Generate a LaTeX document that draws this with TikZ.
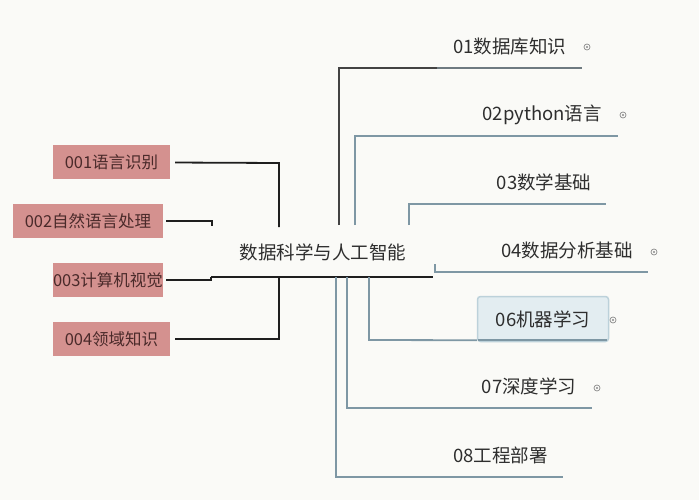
\documentclass[tikz,border=0pt]{standalone}
\usepackage{fontspec}
\newfontfamily\cjk{Noto Sans CJK SC}
\definecolor{bgc}{HTML}{FAFAF7}
\definecolor{pinkbox}{HTML}{D4918F}
\definecolor{pinktext}{HTML}{4A2A2A}
\definecolor{darkline}{HTML}{1E1E1E}
\definecolor{blueline}{HTML}{7E97A4}
\definecolor{greyline}{HTML}{434343}
\definecolor{ulgrey}{HTML}{6E7A80}
\definecolor{bluefill}{HTML}{E3EDF1}
\definecolor{blueedge}{HTML}{BCD1DA}
\definecolor{labeltext}{HTML}{2E2E2E}
\definecolor{markc}{HTML}{8A8A8A}
\tikzset{
  leftbox/.style={fill=pinkbox, text=pinktext, inner sep=0pt, minimum height=34pt,
     font=\cjk\fontsize{16.5}{18}\selectfont},
  lbl/.style={inner sep=0pt, minimum height=42pt, anchor=south west, text=labeltext,
     font=\cjk\fontsize{18.5}{20}\selectfont},
  leftconn/.style={draw=darkline, line width=1.8pt},
  mainline/.style={draw=darkline, line width=2.4pt},
  conn/.style={draw=blueline, line width=1.8pt},
  ul/.style={draw=blueline, line width=2pt},
  marker/.style={circle, draw=markc, line width=0.7pt, minimum size=6pt, inner sep=0pt,
     path picture={\fill[markc] (path picture bounding box.center) circle (1.1pt);}},
}
\begin{document}
\begin{tikzpicture}[x=1pt,y=-1pt]
\fill[bgc] (0,0) rectangle (699,500);
\useasboundingbox (0,0) rectangle (699,500);

% centre
\node[text=labeltext, font=\cjk\fontsize{18.5}{20}\selectfont] (center) at (323,252) {数据科学与人工智能};
\coordinate (uL) at (211,277);
\coordinate (uR) at (433,277);

% left boxes
\node[leftbox, minimum width=117pt] (b1) at (111.5,162.5) {001语言识别};
\node[leftbox, minimum width=150pt] (b2) at (88,221) {002自然语言处理};
\node[leftbox, minimum width=110pt] (b3) at (108,280) {003计算机视觉};
\node[leftbox, minimum width=117pt] (b4) at (111.5,339) {004领域知识};

\coordinate (j1) at (279,163);
\coordinate (e1) at (279,227);
\coordinate (j2) at (212,221);
\coordinate (e2) at (212,226);
\coordinate (j3) at (211,280);
\coordinate (j4) at (279,339);
\coordinate (e4) at (279,277);

\draw[leftconn, shorten <=5pt] (b1.east) -- (j1) -- (e1);
\draw[leftconn, shorten <=3pt] (b2.east) -- (j2) -- (e2);
\draw[leftconn, shorten <=3pt] (b3.east) -- (j3) -- (uL);
\draw[leftconn, shorten <=5pt] (b4.east) -- (j4) -- (e4);
\draw[mainline] (uL) -- (uR);

% right labels
\node[lbl, minimum width=145pt] (n01) at (437,68) {01数据库知识};
\node[lbl, minimum width=152pt] (n02) at (466,136) {02python语言};
\node[lbl, minimum width=124pt] (n03) at (482,204) {03数学基础};
\node[lbl, minimum width=162pt] (n04) at (486,272) {04数据分析基础};
\node[lbl, minimum width=126pt] (n07) at (466,408) {07深度学习};
\node[lbl, minimum width=125pt] (n08) at (438,477) {08工程部署};
\node[draw=blueedge, fill=bluefill, line width=1.5pt, rounded corners=3pt,
      minimum width=131pt, minimum height=45pt, inner sep=0pt, text=labeltext,
      font=\cjk\fontsize{18.5}{20}\selectfont] (n06) at (543,319) {06机器学习};

% underlines
\draw[draw=ulgrey, line width=2pt] (n01.south west) -- (n01.south east);
\draw[ul] (n02.south west) -- (n02.south east);
\draw[ul] (n03.south west) -- (n03.south east);
\draw[ul] (n04.south west) -- (n04.south east);
\draw[ul] (n07.south west) -- (n07.south east);
\draw[ul] (n08.south west) -- (n08.south east);
\draw[ul] ([xshift=1pt,yshift=2pt]n06.south west) -- ([xshift=-2pt,yshift=2pt]n06.south east);

% connectors to right labels
\coordinate (s01) at (339,225);
\coordinate (k01) at (339,68);
\coordinate (s02) at (355,225);
\coordinate (k02) at (355,136);
\coordinate (s03) at (409,225);
\coordinate (k03) at (409,204);
\coordinate (s04) at (435,264);
\coordinate (k04) at (435,272);
\coordinate (s06) at (369,277);
\coordinate (k06) at (369,340);
\coordinate (s07) at (347,277);
\coordinate (k07) at (347,408);
\coordinate (s08) at (336,277);
\coordinate (k08) at (336,477);

\draw[draw=greyline, line width=1.8pt] (s01) -- (k01) -- (n01.south west);
\draw[conn] (s02) -- (k02) -- (n02.south west);
\draw[conn] (s03) -- (k03) -- (n03.south west);
\draw[conn, line width=1.2pt] (s04) -- (k04) -- (n04.south west);
\draw[conn] (s06) -- (k06) -- ([yshift=2pt]n06.south west);
\draw[conn] (s07) -- (k07) -- (n07.south west);
\draw[conn] (s08) -- (k08) -- (n08.south west);

% markers
\node[marker] (m01) at (587,47) {};
\node[marker] (m02) at (623,115) {};
\node[marker] (m04) at (654,252) {};
\node[marker] (m06) at (613,320) {};
\node[marker] (m07) at (597,388) {};
\end{tikzpicture}
\end{document}
